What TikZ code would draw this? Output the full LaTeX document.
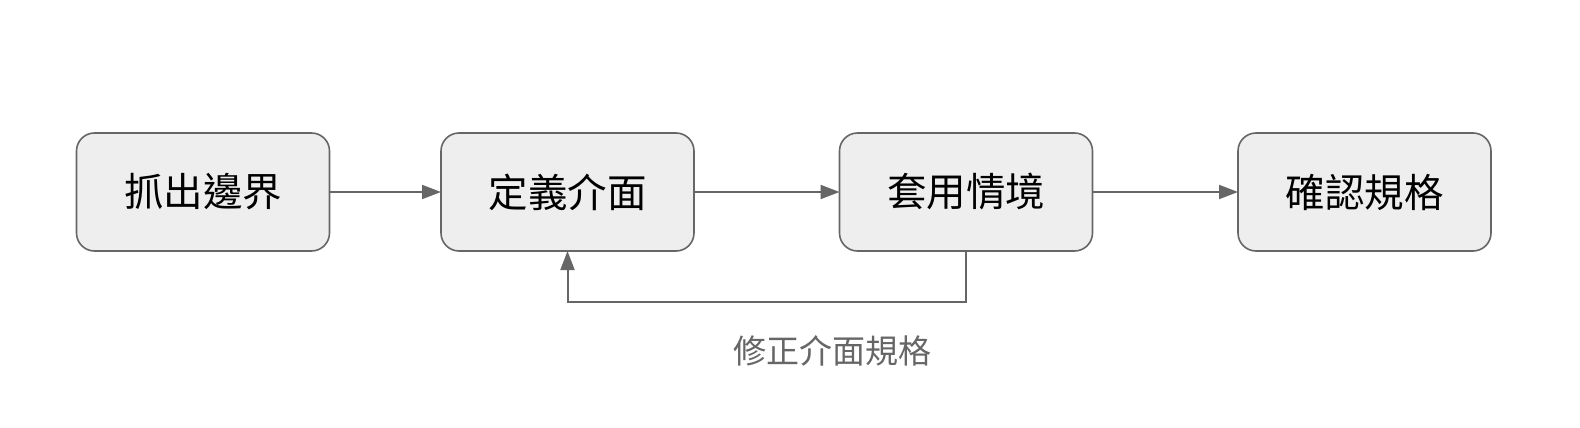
\documentclass[tikz,border=0pt]{standalone}
\usepackage{fontspec}
\newfontfamily\cjk{Noto Sans CJK TC}
\usetikzlibrary{arrows.meta, positioning}
\definecolor{boxfill}{HTML}{EEEEEE}
\definecolor{linegray}{HTML}{666666}

\begin{document}
\begin{tikzpicture}[x=1pt, y=1pt,
    stepbox/.style = {draw=linegray, line width=1.6pt, fill=boxfill, rounded corners=18pt,
                      minimum width=253pt, minimum height=118pt, inner sep=0pt, outer sep=0pt,
                      font=\cjk\fontsize{39.5}{41}\selectfont},
    flow/.style = {draw=linegray, line width=2pt, arrows = {-Triangle[length=19pt, width=14pt]}}]
        % Bordi della figura
        \useasboundingbox (0,0) rectangle (1580,-428);
        % Passi
        \node[stepbox] (Boundary) at (203,-192) {抓出邊界};
        \node[stepbox, right=111.5pt of Boundary] (Interface) {定義介面};
        \node[stepbox, right=145.5pt of Interface] (Scenario) {套用情境};
        \node[stepbox, right=145.5pt of Scenario] (Confirm) {確認規格};
        % Frecce
        \draw[flow] (Boundary) -- (Interface);
        \draw[flow] (Interface) -- (Scenario);
        \draw[flow] (Scenario) -- (Confirm);
        \coordinate (Back) at (0,-302);
        \draw[flow] (Scenario.south) |- (Back -| Interface.south) -- (Interface.south);
        \node[font=\cjk\fontsize{33}{35}\selectfont, text=linegray] (Fix) at (832,-351) {修正介面規格};
    \end{tikzpicture}
\end{document}
